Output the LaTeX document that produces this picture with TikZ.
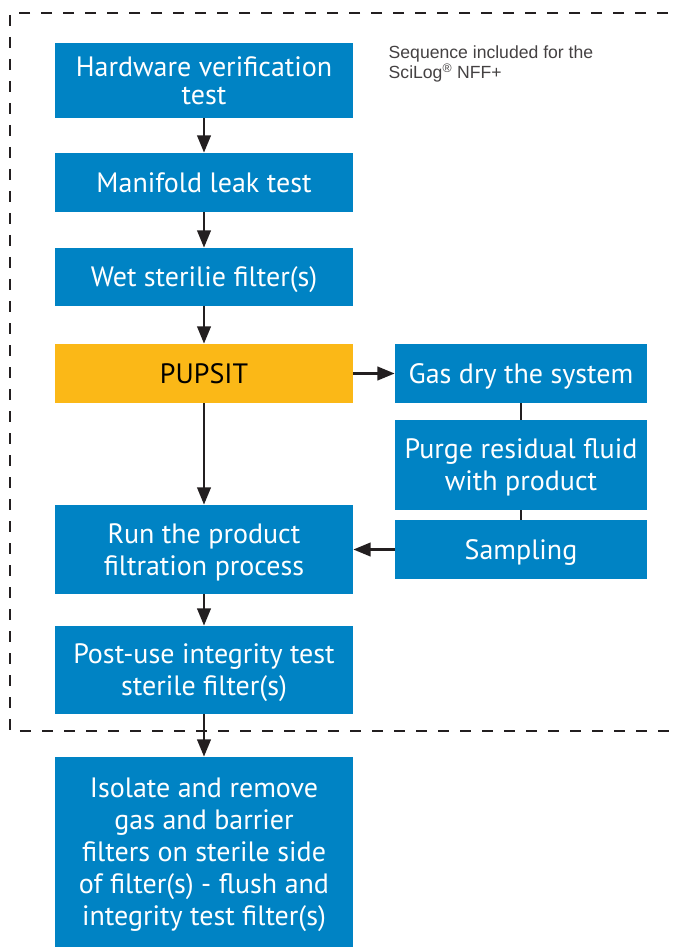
\documentclass[tikz,border=0pt]{standalone}
\usepackage{fontspec}
\setmainfont{PT Sans}
\newfontfamily\notefont{Liberation Sans}
\usetikzlibrary{arrows.meta}
\usetikzlibrary{positioning}
\definecolor{flowblue}{HTML}{0083C4}
\definecolor{flowgold}{HTML}{FBB817}
\definecolor{flowline}{HTML}{231F20}
\tikzstyle{stepnode} = [fill=flowblue, text=white, inner sep=0pt, align=center, text depth=0pt,
  minimum width=223.5pt, font=\fontsize{21}{24}\selectfont]
\tikzstyle{sidenode} = [stepnode, minimum width=189pt]
\tikzstyle{flow} = [draw=flowline, line width=2.2pt]

\begin{document}
\begin{tikzpicture}[x=0.75pt, y=-0.75pt, >={Triangle[length=13pt, width=10pt]}]
  \useasboundingbox (0,0) rectangle (674,948);

  % dashed frame, open on the right
  \draw[flowline, line width=2.2pt, dash pattern=on 8pt off 8.5pt]
    (690,13) -- (10,13) -- (10,731) -- (690,731);

  \node[anchor=north west, align=left, text=flowline!85,
    font=\notefont\fontsize{13.2}{15}\selectfont] (note) at (384,41)
    {Sequence included for the\\SciLog\textsuperscript{\textregistered} NFF+};

  % main column
  \node[stepnode, minimum height=56.25pt, font=\fontsize{21}{20.5}\selectfont] (hw) at (204,80.5) {Hardware verification\\test};
  \node[stepnode, minimum height=44.25pt] (leak) at (204,182.5) {Manifold leak test};
  \node[stepnode, minimum height=43.5pt] (wet) at (204,277) {Wet sterilie filter(s)};
  \node[stepnode, minimum height=44.25pt, fill=flowgold, text=black] (pupsit) at (204,373.5) {PUPSIT};
  \node[stepnode, minimum height=66.75pt] (run) at (204,549.5) {Run the product\\filtration process};
  \node[stepnode, minimum height=66pt] (post) at (204,670) {Post-use integrity test\\sterile filter(s)};
  \node[stepnode, minimum height=142.5pt] (iso) at (204,852)
    {Isolate and remove\\gas and barrier\\filters on sterile side\\of filter(s) - flush and\\integrity test filter(s)};

  % side branch
  \node[sidenode, minimum height=44.25pt] (gas) at (521,373.5) {Gas dry the system};
  \node[sidenode, minimum height=67.5pt] (purge) at (521,465) {Purge residual fluid\\with product};
  \node[sidenode, minimum height=44.25pt] (samp) at (521,549.5) {Sampling};

  \draw[flow, ->] (hw) -- (leak);
  \draw[flow, ->] (leak) -- (wet);
  \draw[flow, ->] (wet) -- (pupsit);
  \draw[flow, ->] (pupsit) -- (run);
  \draw[flow, ->] (run) -- (post);
  \draw[flow, ->] (post) -- (iso);
  \draw[flow, ->] (pupsit) -- (gas);
  \draw[flow] (gas) -- (purge);
  \draw[flow] (purge) -- (samp);
  \draw[flow, ->] (samp) -- (run);
\end{tikzpicture}
\end{document}
